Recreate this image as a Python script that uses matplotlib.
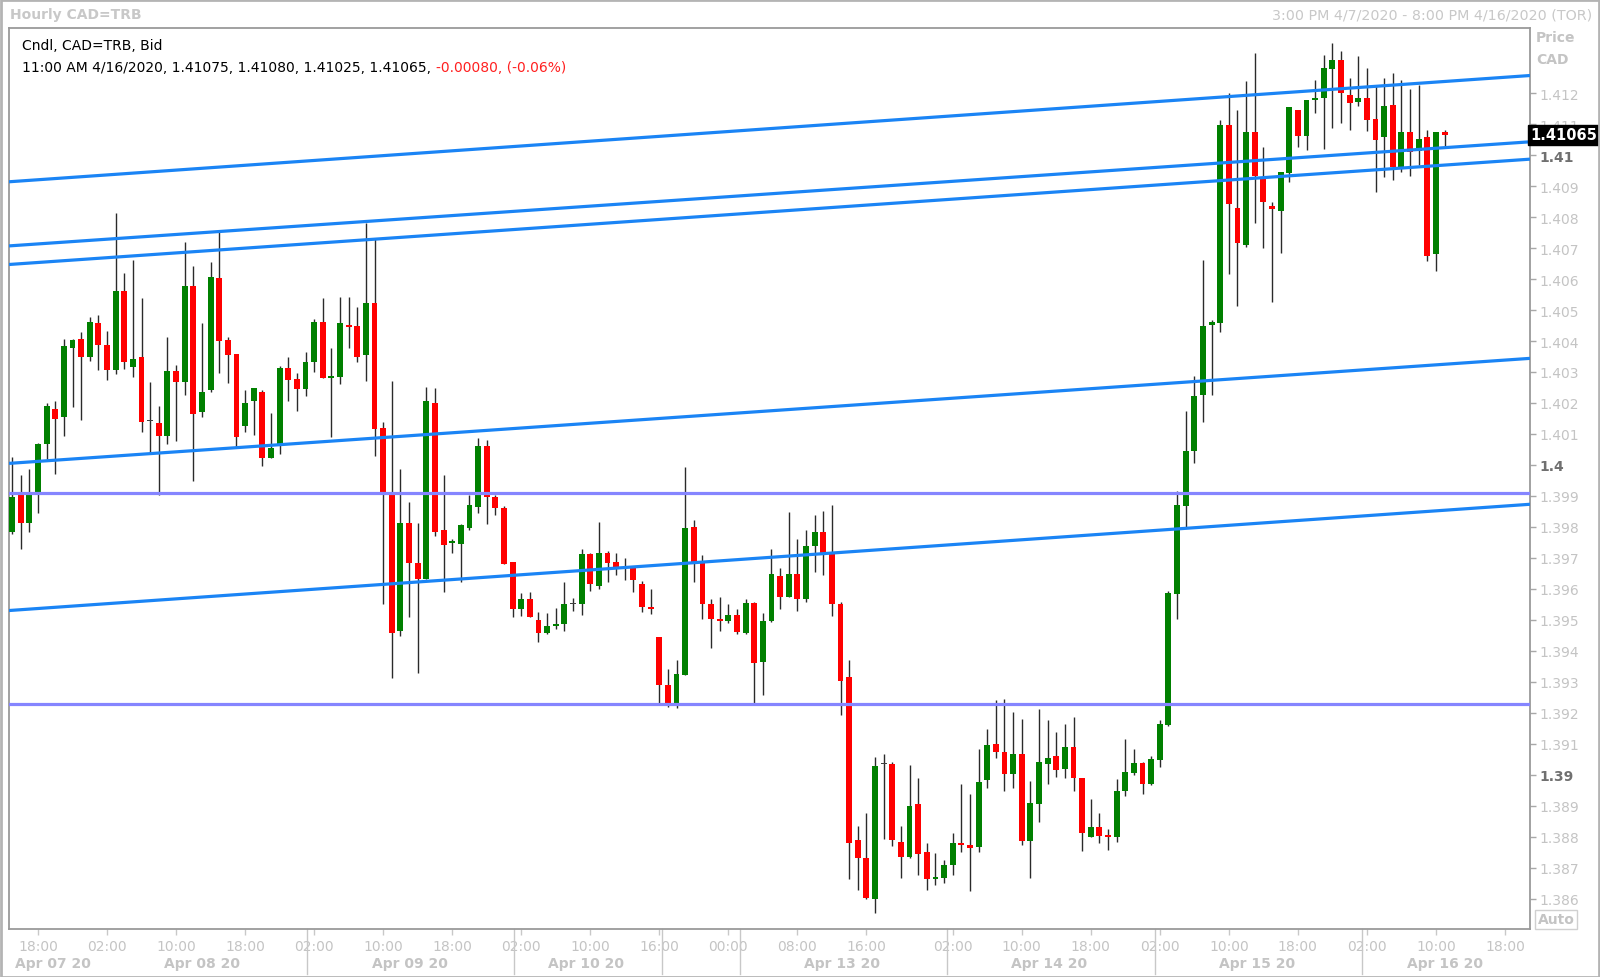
import numpy as np
import matplotlib; matplotlib.use('Agg')
import matplotlib.pyplot as plt
import matplotlib.transforms as mtrans
from matplotlib.patches import Rectangle

# hourly CAD=TRB candles, one row per bar: open, high, low, close
ohlc = [
    (1.39784, 1.40024, 1.39776, 1.39897), (1.39904, 1.39967, 1.39728, 1.39814),
    (1.39814, 1.39986, 1.39782, 1.39906), (1.39911, 1.40070, 1.39846, 1.40067),
    (1.40067, 1.40200, 1.40019, 1.40189), (1.40182, 1.40207, 1.39970, 1.40148),
    (1.40156, 1.40406, 1.40094, 1.40383), (1.40379, 1.40406, 1.40186, 1.40403),
    (1.40406, 1.40428, 1.40146, 1.40349), (1.40349, 1.40479, 1.40334, 1.40462),
    (1.40458, 1.40484, 1.40306, 1.40388), (1.40388, 1.40431, 1.40275, 1.40306),
    (1.40306, 1.40813, 1.40295, 1.40563), (1.40563, 1.40619, 1.40309, 1.40333),
    (1.40315, 1.40661, 1.40285, 1.40342), (1.40348, 1.40539, 1.40107, 1.40140),
    (1.40141, 1.40268, 1.40038, 1.40141), (1.40135, 1.40191, 1.39904, 1.40094),
    (1.40094, 1.40414, 1.40067, 1.40302), (1.40302, 1.40323, 1.40078, 1.40268),
    (1.40268, 1.40718, 1.40225, 1.40578), (1.40578, 1.40643, 1.39949, 1.40164),
    (1.40172, 1.40458, 1.40156, 1.40237), (1.40242, 1.40654, 1.40234, 1.40606),
    (1.40603, 1.40756, 1.40298, 1.40401), (1.40403, 1.40414, 1.40266, 1.40356),
    (1.40358, 1.40358, 1.40056, 1.40091), (1.40126, 1.40243, 1.40105, 1.40200),
    (1.40205, 1.40247, 1.40096, 1.40247), (1.40237, 1.40243, 1.39997, 1.40023),
    (1.40023, 1.40167, 1.40023, 1.40056), (1.40067, 1.40320, 1.40035, 1.40312),
    (1.40312, 1.40350, 1.40205, 1.40275), (1.40277, 1.40296, 1.40173, 1.40245),
    (1.40245, 1.40366, 1.40221, 1.40333), (1.40331, 1.40471, 1.40301, 1.40462),
    (1.40462, 1.40540, 1.40280, 1.40280), (1.40280, 1.40376, 1.40091, 1.40286),
    (1.40285, 1.40542, 1.40260, 1.40458), (1.40453, 1.40542, 1.40379, 1.40444),
    (1.40447, 1.40509, 1.40331, 1.40349), (1.40356, 1.40781, 1.40270, 1.40523),
    (1.40523, 1.40729, 1.40030, 1.40116), (1.40118, 1.40137, 1.39551, 1.39906),
    (1.39906, 1.40272, 1.39311, 1.39457), (1.39464, 1.39986, 1.39448, 1.39811),
    (1.39811, 1.39879, 1.39510, 1.39685), (1.39682, 1.39811, 1.39328, 1.39631),
    (1.39631, 1.40252, 1.39631, 1.40207), (1.40200, 1.40247, 1.39769, 1.39784),
    (1.39791, 1.39967, 1.39590, 1.39742), (1.39747, 1.39761, 1.39715, 1.39753),
    (1.39744, 1.39809, 1.39623, 1.39807), (1.39798, 1.39903, 1.39789, 1.39871),
    (1.39865, 1.40087, 1.39846, 1.40062), (1.40062, 1.40080, 1.39809, 1.39895),
    (1.39895, 1.39903, 1.39838, 1.39861), (1.39861, 1.39868, 1.39680, 1.39680),
    (1.39688, 1.39688, 1.39510, 1.39534), (1.39534, 1.39586, 1.39513, 1.39567),
    (1.39567, 1.39591, 1.39510, 1.39510), (1.39499, 1.39524, 1.39429, 1.39457),
    (1.39457, 1.39521, 1.39454, 1.39480), (1.39480, 1.39537, 1.39472, 1.39486),
    (1.39486, 1.39623, 1.39465, 1.39551), (1.39551, 1.39569, 1.39527, 1.39551),
    (1.39551, 1.39730, 1.39515, 1.39712), (1.39712, 1.39717, 1.39594, 1.39615),
    (1.39608, 1.39816, 1.39599, 1.39717), (1.39717, 1.39723, 1.39623, 1.39685),
    (1.39687, 1.39717, 1.39644, 1.39672), (1.39669, 1.39701, 1.39629, 1.39669),
    (1.39667, 1.39674, 1.39590, 1.39629), (1.39615, 1.39626, 1.39526, 1.39540),
    (1.39542, 1.39601, 1.39518, 1.39534), (1.39446, 1.39446, 1.39233, 1.39289),
    (1.39289, 1.39341, 1.39217, 1.39233), (1.39233, 1.39370, 1.39214, 1.39325),
    (1.39322, 1.39992, 1.39322, 1.39796), (1.39800, 1.39823, 1.39621, 1.39680),
    (1.39682, 1.39709, 1.39502, 1.39551), (1.39551, 1.39567, 1.39409, 1.39504),
    (1.39504, 1.39575, 1.39464, 1.39496), (1.39497, 1.39551, 1.39489, 1.39515),
    (1.39515, 1.39536, 1.39454, 1.39462), (1.39457, 1.39567, 1.39454, 1.39554),
    (1.39554, 1.39559, 1.39233, 1.39360), (1.39365, 1.39522, 1.39257, 1.39497),
    (1.39497, 1.39730, 1.39493, 1.39647), (1.39642, 1.39666, 1.39534, 1.39574),
    (1.39574, 1.39847, 1.39574, 1.39649), (1.39649, 1.39760, 1.39527, 1.39567),
    (1.39567, 1.39790, 1.39558, 1.39737), (1.39737, 1.39838, 1.39653, 1.39782),
    (1.39785, 1.39850, 1.39644, 1.39712), (1.39712, 1.39871, 1.39511, 1.39551),
    (1.39551, 1.39559, 1.39192, 1.39303), (1.39314, 1.39370, 1.38665, 1.38779),
    (1.38788, 1.38835, 1.38627, 1.38730), (1.38730, 1.38875, 1.38598, 1.38603),
    (1.38598, 1.39058, 1.38553, 1.39029), (1.39034, 1.39066, 1.38794, 1.39034),
    (1.39034, 1.39042, 1.38770, 1.38788), (1.38784, 1.38835, 1.38668, 1.38733),
    (1.38733, 1.39031, 1.38730, 1.38899), (1.38905, 1.38988, 1.38675, 1.38743),
    (1.38749, 1.38781, 1.38628, 1.38662), (1.38665, 1.38746, 1.38643, 1.38669),
    (1.38668, 1.38724, 1.38650, 1.38708), (1.38708, 1.38811, 1.38676, 1.38779),
    (1.38779, 1.38969, 1.38749, 1.38772), (1.38772, 1.38939, 1.38625, 1.38763),
    (1.38768, 1.39082, 1.38749, 1.38978), (1.38983, 1.39149, 1.38958, 1.39096),
    (1.39098, 1.39241, 1.39055, 1.39074), (1.39074, 1.39244, 1.38946, 1.39002),
    (1.39002, 1.39204, 1.38958, 1.39066), (1.39066, 1.39179, 1.38772, 1.38786),
    (1.38786, 1.38980, 1.38668, 1.38908), (1.38905, 1.39212, 1.38848, 1.39041),
    (1.39034, 1.39177, 1.38969, 1.39055), (1.39059, 1.39138, 1.38994, 1.39016),
    (1.39020, 1.39165, 1.38990, 1.39090), (1.39090, 1.39187, 1.38948, 1.38988),
    (1.38988, 1.38988, 1.38754, 1.38811), (1.38800, 1.38921, 1.38800, 1.38832),
    (1.38832, 1.38875, 1.38779, 1.38802), (1.38805, 1.38826, 1.38757, 1.38800),
    (1.38800, 1.38986, 1.38783, 1.38948), (1.38948, 1.39115, 1.38930, 1.39009),
    (1.39007, 1.39082, 1.38998, 1.39039), (1.39039, 1.39041, 1.38937, 1.38971),
    (1.38971, 1.39061, 1.38966, 1.39050), (1.39048, 1.39177, 1.39026, 1.39163),
    (1.39161, 1.39594, 1.39158, 1.39585), (1.39583, 1.39917, 1.39502, 1.39870),
    (1.39868, 1.40175, 1.39795, 1.40046), (1.40046, 1.40286, 1.40006, 1.40221),
    (1.40226, 1.40662, 1.40139, 1.40447), (1.40452, 1.40468, 1.40225, 1.40460),
    (1.40457, 1.41113, 1.40430, 1.41097), (1.41097, 1.41201, 1.40616, 1.40842),
    (1.40828, 1.41146, 1.40514, 1.40715), (1.40710, 1.41240, 1.40705, 1.41074),
    (1.41074, 1.41329, 1.40780, 1.40934), (1.40925, 1.41025, 1.40699, 1.40848),
    (1.40837, 1.40850, 1.40525, 1.40826), (1.40820, 1.40944, 1.40684, 1.40944),
    (1.40941, 1.41154, 1.40914, 1.41154), (1.41147, 1.41147, 1.41025, 1.41063),
    (1.41063, 1.41179, 1.41017, 1.41178), (1.41178, 1.41243, 1.41136, 1.41183),
    (1.41183, 1.41323, 1.41020, 1.41280), (1.41278, 1.41362, 1.41087, 1.41307),
    (1.41307, 1.41335, 1.41104, 1.41200), (1.41194, 1.41248, 1.41082, 1.41167),
    (1.41170, 1.41321, 1.41158, 1.41183), (1.41183, 1.41281, 1.41077, 1.41113),
    (1.41116, 1.41228, 1.40882, 1.41050), (1.41057, 1.41249, 1.40928, 1.41160),
    (1.41162, 1.41264, 1.40921, 1.40961), (1.40957, 1.41243, 1.40944, 1.41074),
    (1.41074, 1.41214, 1.40932, 1.41011), (1.41014, 1.41228, 1.40968, 1.41052),
    (1.41057, 1.41082, 1.40659, 1.40675), (1.40681, 1.41076, 1.40627, 1.41076),
    (1.41075, 1.41080, 1.41025, 1.41065),
]

# drawn trend channel lines: price at left edge / right edge of the plot
trend_left = [1.40914, 1.40707, 1.40647, 1.40005, 1.39530]
trend_right = [1.41257, 1.41043, 1.40987, 1.40344, 1.39873]
levels = [1.39911, 1.39228]
last_price = 1.41065

# x axis (bar index)
time_ticks = [3, 11, 19, 27, 35, 43, 51, 59, 67, 75, 83, 91, 99, 109, 117, 125,
              133, 141, 149, 157, 165, 173]
time_labels = ["18:00", "02:00", "10:00", "18:00", "02:00", "10:00", "18:00", "02:00",
               "10:00", "16:00", "00:00", "08:00", "16:00", "02:00", "10:00", "18:00",
               "02:00", "10:00", "18:00", "02:00", "10:00", "18:00"]
day_seps = [34.2, 58.2, 75.3, 84.3, 108.3, 132.4, 156.4]
date_pos = [4.7, 22.0, 46.1, 66.5, 96.2, 120.2, 144.3, 166.0]
date_labels = ["Apr 07 20", "Apr 08 20", "Apr 09 20", "Apr 10 20",
               "Apr 13 20", "Apr 14 20", "Apr 15 20", "Apr 16 20"]

o, h, l, c = [np.array(v) for v in zip(*ohlc)]
idx = np.arange(len(o))
XL, XR = -0.36, 175.9
YB, YT = 1.38502, 1.41412

W, H = 1600, 978
fig = plt.figure(figsize=(W / 100, H / 100), dpi=100)
ax = fig.add_axes([9 / W, 1 - 930 / H, 1521 / W, 901.5 / H])
ax.set_xlim(XL, XR); ax.set_ylim(YB, YT)

GREEN, RED = '#008000', '#ff0000'
up = c >= o
flat = np.isclose(o, c, atol=2e-6)
cols = np.where(flat, '#404040', np.where(up, GREEN, RED))

ax.vlines(idx, l, h, color='#2a2a2a', lw=1.0, zorder=3)
body_lo = np.minimum(o, c)
body_h = np.maximum(np.abs(c - o), 0.00003)
ax.bar(idx, body_h, bottom=body_lo, width=0.68, color=cols, linewidth=0, zorder=4)

for y0, y1 in zip(trend_left, trend_right):
    ax.plot([XL, XR], [y0, y1], color='#1a84f5', lw=2.3, zorder=5, solid_capstyle='butt')
for lv in levels:
    ax.axhline(lv, color='#8585ff', lw=2.3, zorder=5)

# right price axis
ax.yaxis.tick_right()
yt = np.round(np.arange(1.386, 1.4125, 0.001), 3)
ax.set_yticks(yt)
is_round = [abs(v * 100 - round(v * 100)) < 1e-6 for v in yt]
ax.set_yticklabels([('%.2f' % v).rstrip('0').rstrip('.') if r else '%.3f' % v
                    for v, r in zip(yt, is_round)])
for r, t in zip(is_round, ax.get_yticklabels()):
    t.set_fontsize(10)
    if r:
        t.set_color('#707070'); t.set_fontweight('bold')
    else:
        t.set_color('#c4c4c4')
ax.tick_params(axis='y', length=4, width=1, color='#a8a8a8', pad=3)

# bottom time axis
ax.set_xticks(time_ticks)
ax.set_xticklabels(time_labels)
ax.tick_params(axis='x', length=4, width=1, color='#c8c8c8', pad=3,
               labelsize=10, labelcolor='#c4c4c4')
bt = mtrans.blended_transform_factory(ax.transData, ax.transAxes)
for s in day_seps:
    ax.plot([s, s], [0, -0.05], transform=bt, color='#c8c8c8', lw=1, clip_on=False)
for p, lab in zip(date_pos, date_labels):
    ax.text(p, -0.0375, lab, transform=bt, ha='center', va='center', fontsize=10,
            fontweight='bold', color='#c4c4c4', clip_on=False)

for sp in ax.spines.values():
    sp.set_color('#9a9a9a'); sp.set_linewidth(1.3)

# header texts
fig.text(10 / W, 1 - 15.5 / H, 'Hourly CAD=TRB', ha='left', va='center', fontsize=10,
         fontweight='bold', color='#c8c8c8')
fig.text(1592 / W, 1 - 15.5 / H, '3:00 PM 4/7/2020 - 8:00 PM 4/16/2020 (TOR)', ha='right',
         va='center', fontsize=10.3, color='#c8c8c8')
fig.text(1536 / W, 1 - 38 / H, 'Price', ha='left', va='center', fontsize=10,
         fontweight='bold', color='#c4c4c4')
fig.text(1536 / W, 1 - 59.5 / H, 'CAD', ha='left', va='center', fontsize=10,
         fontweight='bold', color='#c4c4c4')
fig.text(22.5 / W, 1 - 46 / H, 'Cndl, CAD=TRB, Bid', ha='left', va='center',
         fontsize=10, color='black')
t1 = fig.text(22.5 / W, 1 - 67.5 / H,
              '11:00 AM 4/16/2020, 1.41075, 1.41080, 1.41025, 1.41065, ',
              ha='left', va='center', fontsize=10, color='black')
ax.annotate('-0.00080, (-0.06%)', xy=(1, 0.5), xycoords=t1, ha='left', va='center',
            fontsize=10, color='#ff2020', annotation_clip=False)

# last price tag
rt = mtrans.blended_transform_factory(ax.transAxes, ax.transData)
ax.text(1.0005, last_price, '1.41065', transform=rt, ha='left', va='center', fontsize=10.5,
        fontweight='bold', color='white', clip_on=False, zorder=10,
        bbox=dict(boxstyle='square,pad=0.18', fc='black', ec='black'))

# "Auto" box
fig.text(1556 / W, 1 - 920.5 / H, 'Auto', ha='center', va='center', fontsize=10,
         fontweight='bold', color='#c4c4c4',
         bbox=dict(boxstyle='square,pad=0.15', fc='white', ec='#d0d0d0', lw=1))

fig.add_artist(Rectangle((0.5 / W, 0.5 / H), 1 - 1.5 / W, 1 - 1.5 / H,
                         transform=fig.transFigure, fill=False, ec='#b4b4b4', lw=2))

fig.savefig('out.png', dpi=100)
